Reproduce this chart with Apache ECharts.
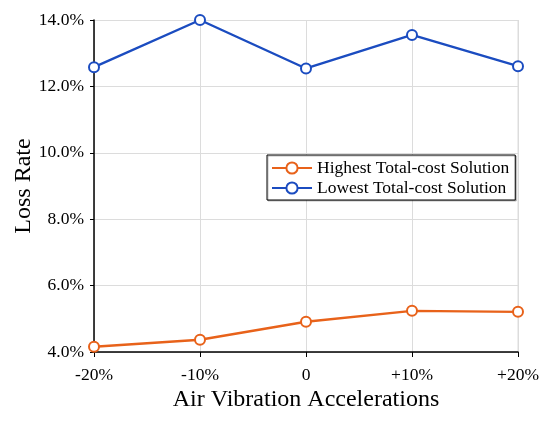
<!DOCTYPE html>
<html><head><meta charset="utf-8">
<script src="https://cdn.jsdelivr.net/npm/echarts@6/dist/echarts.min.js"></script>
<style>html,body{margin:0;padding:0;background:#fff}#c{width:550px;height:421px}</style>
</head><body><div id="c"></div>
<script>
var categories = ['-20%', '-10%', '0', '+10%', '+20%'];
var highest = [4.16, 4.37, 4.91, 5.24, 5.21];
var lowest = [12.58, 14.0, 12.54, 13.55, 12.61];
var yTicks = [4, 6, 8, 10, 12, 14];

var FONT = 'Liberation Serif';
var ORANGE = '#e8621a', BLUE = '#1b4cc0';
var chart = echarts.init(document.getElementById('c'), null, {renderer: 'canvas'});
chart.setOption({
  animation: false,
  backgroundColor: '#fff',
  textStyle: {fontFamily: FONT},
  grid: {left: 94, right: 32, top: 20, bottom: 69, containLabel: false, outerBoundsMode: 'none'},
  legend: {
    orient: 'vertical',
    left: 267, top: 155,
    padding: [4, 6, 3, 4],
    itemGap: 2,
    itemWidth: 40, itemHeight: 14,
    borderColor: '#000', borderWidth: 1,
    shadowColor: 'rgba(0,0,0,0.25)', shadowOffsetX: 1, shadowOffsetY: 1, shadowBlur: 0,
    backgroundColor: '#fff',
    textStyle: {fontFamily: FONT, fontSize: 17.5, color: '#000'},
    data: ['Highest Total-cost Solution', 'Lowest Total-cost Solution']
  },
  xAxis: {
    type: 'category',
    data: categories,
    boundaryGap: false,
    name: 'Air Vibration Accelerations',
    nameLocation: 'middle',
    nameGap: 36,
    nameMoveOverlap: false,
    nameTextStyle: {fontFamily: FONT, fontSize: 24, color: '#000'},
    axisLine: {lineStyle: {color: '#000', width: 1.5}},
    axisTick: {show: true, length: 5, lineStyle: {color: '#000'}},
    axisLabel: {fontFamily: FONT, fontSize: 17.5, color: '#000', margin: 14},
    splitLine: {show: true, lineStyle: {color: '#dcdcdc', width: 1}}
  },
  yAxis: {
    type: 'value',
    min: yTicks[0], max: yTicks[yTicks.length - 1], interval: 2,
    name: 'Loss Rate',
    nameLocation: 'middle',
    nameGap: 58,
    nameMoveOverlap: false,
    nameTextStyle: {fontFamily: FONT, fontSize: 24, color: '#000'},
    axisLine: {show: true, lineStyle: {color: '#000', width: 1.5}},
    axisTick: {show: true, length: 4, lineStyle: {color: '#000'}},
    axisLabel: {fontFamily: FONT, fontSize: 17.5, color: '#000', margin: 10,
      formatter: function (v) { return v.toFixed(1) + '%'; }},
    splitLine: {show: true, lineStyle: {color: '#dcdcdc', width: 1}}
  },
  graphic: [{
    type: 'line', z: 0,
    shape: {x1: 518, y1: 20, x2: 518, y2: 352},
    style: {stroke: '#dcdcdc', lineWidth: 1}
  }],
  series: [
    {
      name: 'Highest Total-cost Solution', type: 'line', data: highest,
      symbol: 'emptyCircle', symbolSize: 10,
      lineStyle: {width: 2.4, color: ORANGE},
      itemStyle: {borderWidth: 2.2, color: ORANGE, borderColor: ORANGE}
    },
    {
      name: 'Lowest Total-cost Solution', type: 'line', data: lowest,
      symbol: 'emptyCircle', symbolSize: 10,
      lineStyle: {width: 2.4, color: BLUE},
      itemStyle: {borderWidth: 2.2, color: BLUE, borderColor: BLUE}
    }
  ]
});
</script></body></html>
